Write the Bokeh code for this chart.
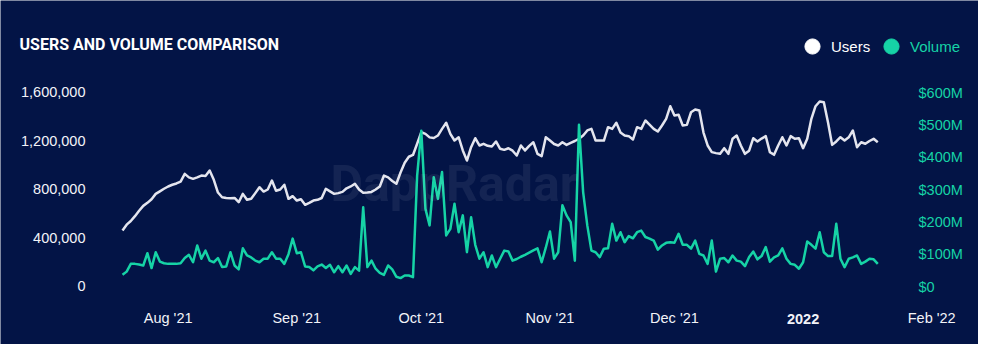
import pandas as pd
from bokeh.plotting import figure
from bokeh.models import Range1d, LinearAxis, FixedTicker, NumeralTickFormatter, Legend, LegendItem, Label
from bokeh.embed import file_html
from bokeh.resources import INLINE

TITLE = "USERS AND VOLUME COMPARISON"
START_DATE = "2021-07-21"

users_k = [
    462, 510, 540, 580, 625, 665, 690, 720, 764, 785,
    806, 825, 839, 850, 865, 929, 900, 888, 900, 915,
    912, 957, 880, 775, 736, 730, 728, 730, 695, 764,
    715, 723, 770, 819, 783, 800, 874, 790, 800, 839,
    723, 745, 709, 720, 674, 690, 709, 715, 730, 806,
    785, 764, 770, 780, 810, 825, 847, 800, 773, 775,
    780, 800, 825, 915, 900, 870, 847, 940, 1020, 1070,
    1085, 1177, 1272, 1259, 1230, 1225, 1245, 1300, 1350, 1259,
    1204, 1231, 1122, 1039, 1149, 1223, 1163, 1177, 1160, 1155,
    1196, 1136, 1127, 1140, 1120, 1080, 1163, 1122, 1160, 1190,
    1094, 1075, 1231, 1204, 1175, 1163, 1190, 1168, 1185, 1200,
    1218, 1245, 1287, 1300, 1204, 1204, 1204, 1314, 1300, 1350,
    1270, 1245, 1240, 1212, 1314, 1300, 1369, 1335, 1300, 1278,
    1328, 1383, 1487, 1410, 1416, 1328, 1333, 1437, 1460, 1451,
    1270, 1163, 1108, 1100, 1094, 1141, 1094, 1218, 1245, 1163,
    1094, 1120, 1223, 1196, 1220, 1240, 1108, 1086, 1163, 1231,
    1163, 1240, 1218, 1223, 1141, 1218, 1383, 1487, 1526, 1520,
    1355, 1168, 1196, 1231, 1204, 1230, 1287, 1149, 1190, 1177,
    1200, 1218, 1190,
]

volume_m = [
    36, 46, 70, 70, 68, 65, 103, 57, 106, 77,
    72, 70, 70, 70, 72, 88, 98, 75, 127, 86,
    111, 80, 75, 88, 60, 62, 106, 65, 53, 118,
    96, 90, 80, 75, 86, 86, 106, 86, 86, 70,
    100, 148, 103, 106, 62, 60, 50, 62, 68, 57,
    67, 44, 63, 44, 65, 39, 60, 49, 245, 60,
    80, 55, 42, 36, 65, 53, 30, 26, 34, 34,
    29, 343, 482, 240, 189, 338, 271, 354, 158, 178,
    256, 168, 220, 106, 214, 129, 86, 106, 60, 96,
    60, 86, 111, 108, 80, 85, 92, 98, 105, 112,
    118, 75, 120, 170, 86, 106, 251, 220, 199, 80,
    500, 292, 189, 111, 106, 91, 117, 118, 194, 142,
    168, 137, 156, 149, 168, 173, 153, 148, 142, 114,
    127, 135, 137, 135, 163, 129, 129, 117, 142, 101,
    96, 70, 142, 46, 86, 88, 75, 96, 80, 77,
    63, 91, 108, 84, 94, 122, 77, 90, 96, 118,
    86, 70, 67, 55, 75, 139, 129, 117, 168, 106,
    94, 94, 194, 86, 60, 86, 90, 96, 70, 77,
    86, 84, 70,
]

x_tick_dates = ["2021-08-01", "2021-09-01", "2021-10-01", "2021-11-01",
                "2021-12-01", "2022-01-01", "2022-02-01"]
x_tick_labels = ["Aug '21", "Sep '21", "Oct '21", "Nov '21", "Dec '21", "2022", "Feb '22"]
users_ticks = [0, 400000, 800000, 1200000, 1600000]
volume_ticks = [0, 100, 200, 300, 400, 500, 600]
volume_tick_labels = ["$0", "$100M", "$200M", "$300M", "$400M", "$500M", "$600M"]

BG = "#031446"
USERS_COLOR = "#e4e5ee"
VOLUME_COLOR = "#16d3a6"
LABEL_COLOR = "#f2f3f8"
FONT = "Liberation Sans"

dates = pd.date_range(START_DATE, periods=len(users_k), freq="D")
users = [u * 1000 for u in users_k]


def ms(d):
    return pd.Timestamp(d).value // 10**6


day_ms = 86400000
x0 = ms(START_DATE)

W, H = 978, 344
p = figure(width=W, height=H, x_axis_type="datetime",
           output_backend="svg", toolbar_location=None,
           x_range=Range1d(x0 - 29.40 * day_ms, x0 + 206.27 * day_ms),
           y_range=Range1d(-478351, 2358763),
           min_border_left=0, min_border_right=0,
           min_border_top=0, min_border_bottom=0)
p.extra_y_ranges = {"vol": Range1d(-179.38, 884.54)}

p.background_fill_color = BG
p.border_fill_color = BG
p.outline_line_color = None
p.grid.visible = False

p.line(dates, users, color=USERS_COLOR, line_width=2.5, line_join="round")
p.line(dates, volume_m, color=VOLUME_COLOR, line_width=2.5, line_join="round", y_range_name="vol")

# x axis
xa = p.xaxis[0]
xa.ticker = FixedTicker(ticks=[ms(d) for d in x_tick_dates])
xa.major_label_overrides = {ms(d): ("" if lab == "2022" else lab)
                            for d, lab in zip(x_tick_dates, x_tick_labels)}

# left axis
ya = p.yaxis[0]
ya.ticker = FixedTicker(ticks=users_ticks)
ya.formatter = NumeralTickFormatter(format="0,0")

# right axis
ra = LinearAxis(y_range_name="vol", ticker=FixedTicker(ticks=volume_ticks),
                major_label_overrides=dict(zip(volume_ticks, volume_tick_labels)))
p.add_layout(ra, "right")

for ax in (xa, ya, ra):
    ax.axis_line_color = None
    ax.major_tick_line_color = None
    ax.minor_tick_line_color = None
    ax.major_tick_out = 0
    ax.major_tick_in = 0
    ax.major_label_text_font = FONT
    ax.major_label_text_font_size = "14.5px"
    ax.major_label_text_color = LABEL_COLOR
xa.major_label_standoff = -35
ya.major_label_standoff = -85
ra.major_label_standoff = -60
ra.major_label_text_color = VOLUME_COLOR

# bold "2022" tick label
for d, lab in zip(x_tick_dates, x_tick_labels):
    if lab == "2022":
        p.add_layout(Label(x=ms(d), y=26, x_units="data", y_units="screen", text=lab,
                           text_align="center", text_baseline="middle",
                           text_font=FONT, text_font_style="bold",
                           text_font_size="14.5px", text_color=LABEL_COLOR))

# watermark
p.add_layout(Label(x=330, y=161, x_units="screen", y_units="screen", text="DappRadar",
                   text_baseline="middle", text_font="Roboto", text_font_style="bold",
                   text_font_size="50px", text_color="#ffffff", text_alpha=0.07))

# title
p.add_layout(Label(x=19, y=300, x_units="screen", y_units="screen", text=TITLE,
                   text_baseline="alphabetic", text_font="Roboto", text_font_style="bold",
                   text_font_size="16px", text_color="#ffffff"))

# legend handles: a single point placed far below the visible range
du = p.scatter(x=[x0], y=[-1e9], size=15, marker="circle", color="#ffffff")
dv = p.scatter(x=[x0], y=[-1e9], size=15, marker="circle", color=VOLUME_COLOR)
for lab, r, col, lx in (("Users", du, "#ffffff", 793), ("Volume", dv, VOLUME_COLOR, 872)):
    lg = Legend(items=[LegendItem(label=lab, renderers=[r], index=0)], location=(lx, 279),
                orientation="horizontal", glyph_width=38, glyph_height=38,
                label_standoff=-2, padding=0, margin=0, border_line_alpha=0,
                background_fill_alpha=0, label_text_color=col,
                label_text_font=FONT, label_text_font_size="15px")
    p.add_layout(lg, "center")

open("out.html", "w").write(file_html(p, INLINE))
